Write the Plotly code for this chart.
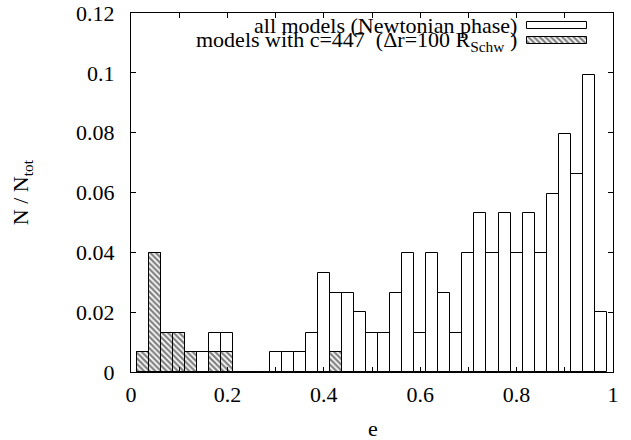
import plotly.graph_objects as go

# bin centres (e) and normalised counts N/N_tot
e_bins = [0.025, 0.05, 0.075, 0.1, 0.125, 0.15, 0.175, 0.2, 0.225, 0.25,
          0.275, 0.3, 0.325, 0.35, 0.375, 0.4, 0.425, 0.45, 0.475, 0.5,
          0.525, 0.55, 0.575, 0.6, 0.625, 0.65, 0.675, 0.7, 0.725, 0.75,
          0.775, 0.8, 0.825, 0.85, 0.875, 0.9, 0.925, 0.95, 0.975]
all_models = [0.0066, 0.0397, 0.0132, 0.0132, 0.0066, 0.0066, 0.0132, 0.0132, 0.0, 0.0,
              0.0, 0.0066, 0.0066, 0.0066, 0.0132, 0.0331, 0.0265, 0.0265, 0.0199, 0.0132,
              0.0132, 0.0265, 0.0397, 0.0132, 0.0397, 0.0265, 0.0132, 0.0397, 0.0530, 0.0397,
              0.0530, 0.0397, 0.0530, 0.0397, 0.0596, 0.0795, 0.0662, 0.0993, 0.0199]
e_c447 = [0.025, 0.05, 0.075, 0.1, 0.125, 0.175, 0.2, 0.425]
c447 = [0.0066, 0.0397, 0.0132, 0.0132, 0.0066, 0.0066, 0.0066, 0.0066]

label_all = "all models (Newtonian phase)"
label_c = "models with c=447  (\u0394r=100 R<sub>Schw</sub> )"
xlabel = "e"
ylabel = "N / N<sub>tot</sub>"

BW = 0.025
FONT = "Liberation Serif"
FS = 22

hatch = dict(shape="\\", fgcolor="black", bgcolor="white", size=4, solidity=0.55)

fig = go.Figure()
fig.add_trace(go.Bar(x=e_bins, y=all_models, width=BW, name=label_all,
                     marker=dict(color="white", line=dict(color="black", width=1)),
                     showlegend=False))
fig.add_trace(go.Bar(x=e_c447, y=c447, width=BW, name=label_c,
                     marker=dict(color="white", pattern=hatch,
                                 line=dict(color="black", width=1)),
                     showlegend=False))

# legend samples drawn on an invisible overlay axis (paper-fraction units)
fig.add_trace(go.Bar(x=[0.125], y=[0.965], base=[0.8216], width=[0.02], orientation="h",
                     xaxis="x2", yaxis="y2", showlegend=False, hoverinfo="skip",
                     marker=dict(color="white", line=dict(color="black", width=1))))
fig.add_trace(go.Bar(x=[0.125], y=[0.9235], base=[0.8216], width=[0.02], orientation="h",
                     xaxis="x2", yaxis="y2", showlegend=False, hoverinfo="skip",
                     marker=dict(color="white", pattern=hatch,
                                 line=dict(color="black", width=1))))

axis_common = dict(showline=True, linecolor="black", linewidth=1, mirror="ticks",
                   ticks="inside", ticklen=5, tickcolor="black", tickwidth=1,
                   showgrid=False, zeroline=False, automargin=False,
                   tickfont=dict(family=FONT, size=FS, color="black"))

fig.update_layout(
    width=631, height=440,
    margin=dict(l=131, r=18, t=13, b=68),
    paper_bgcolor="white", plot_bgcolor="white",
    barmode="overlay", bargap=0,
    font=dict(family=FONT, size=FS, color="black"),
    xaxis=dict(range=[0, 1], dtick=0.2, tick0=0,
               minor=dict(dtick=0.1, ticks="inside", ticklen=5, tickcolor="black"),
               ticklabelstandoff=3, **axis_common),
    yaxis=dict(range=[0, 0.12], dtick=0.02, tick0=0, ticklabelstandoff=11,
               **axis_common),
    xaxis2=dict(overlaying="x", range=[0, 1], visible=False, fixedrange=True),
    yaxis2=dict(overlaying="y", range=[0, 1], visible=False, fixedrange=True),
    annotations=[
        dict(text=label_all, xref="paper", yref="paper", x=0.805, y=0.964,
             xanchor="right", yanchor="middle", showarrow=False,
             font=dict(family=FONT, size=FS, color="black")),
        dict(text=label_c, xref="paper", yref="paper", x=0.805, y=0.923,
             xanchor="right", yanchor="middle", showarrow=False,
             font=dict(family=FONT, size=FS, color="black")),
        dict(text=xlabel, xref="paper", yref="paper", x=0.502, y=-0.156,
             xanchor="center", yanchor="middle", showarrow=False,
             font=dict(family=FONT, size=FS, color="black")),
        dict(text=ylabel, xref="paper", yref="paper", x=-0.226, y=0.501,
             xanchor="center", yanchor="middle", showarrow=False, textangle=-90,
             font=dict(family=FONT, size=FS, color="black")),
    ],
)

fig.write_html("out.html", config={"displayModeBar": False},
               post_script="document.body.style.margin='0';document.body.style.overflow='hidden';")
